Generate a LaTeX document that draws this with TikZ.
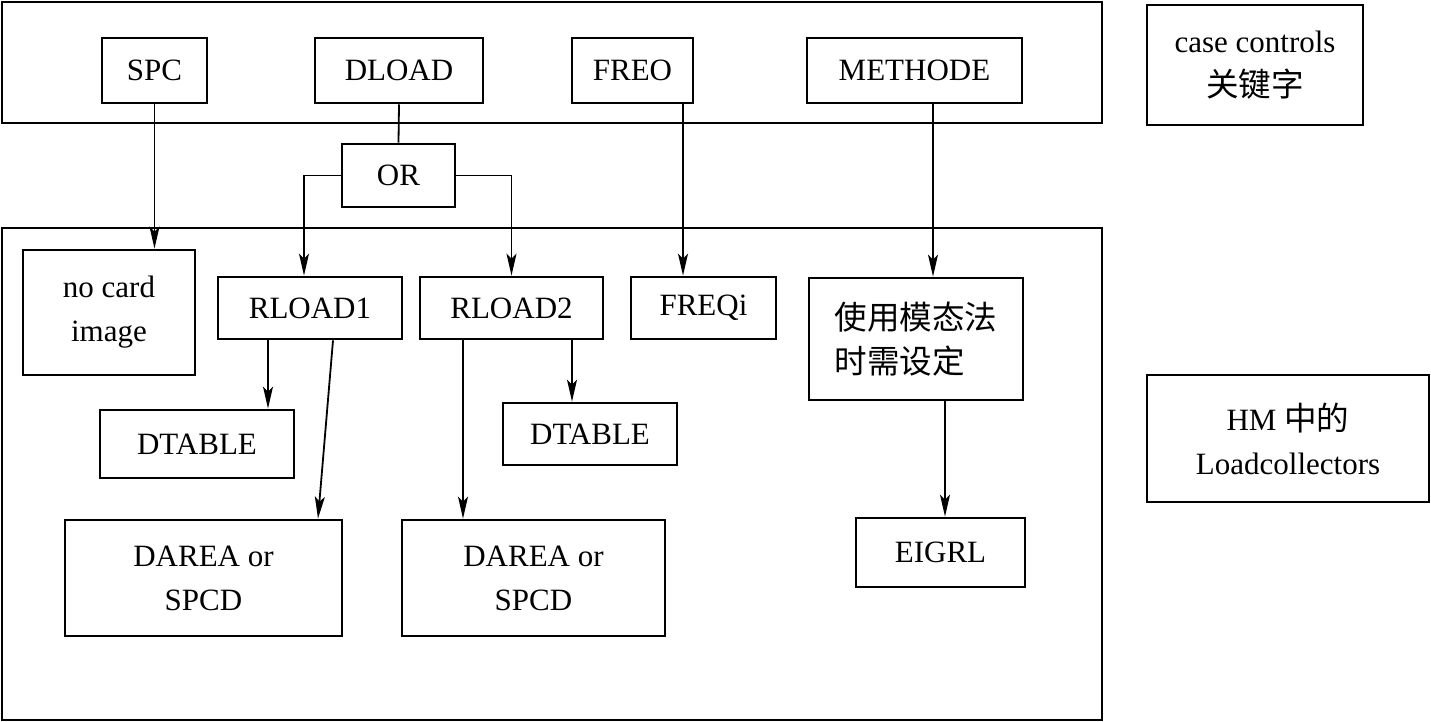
\documentclass[tikz,border=0pt]{standalone}
\usepackage{fontspec}
\setmainfont{Liberation Serif}
\newfontfamily\cjk[Scale=1.05]{Noto Sans CJK SC}
\usetikzlibrary{arrows.meta,calc}
\tikzset{
  box/.style={draw, line width=2.8pt, inner sep=0pt, align=center, font=\fontsize{31}{44}\selectfont},
  frame/.style={draw, line width=2.8pt, inner sep=0pt},
  arr/.style={line width=1.8pt, -{Stealth[length=22pt,width=10pt,inset=5pt]}},
  ln/.style={line width=1.8pt}
}
\begin{document}
\begin{tikzpicture}[x=1pt,y=-1pt]
\useasboundingbox[fill=white] (0,0) rectangle (1431,722);
% frames
\node[frame, minimum width=1100, minimum height=121] (topframe) at (552,62.5) {};
\node[frame, minimum width=1100, minimum height=492] (botframe) at (552,474) {};
% top row
\node[box, minimum width=105, minimum height=65] (spc) at (154.5,70.5) {SPC};
\node[box, minimum width=168, minimum height=65] (dload) at (399,70.5) {DLOAD};
\node[box, minimum width=121, minimum height=65] (freo) at (632.5,70.5) {FREO};
\node[box, minimum width=215, minimum height=65] (meth) at (914.5,70.5) {METHODE};
\node[box, minimum width=216, minimum height=120] (cc) at (1255,65) {case controls\\{\cjk 关键字}};
\node[box, minimum width=113, minimum height=63] (or) at (398.5,175.5) {OR};
% second row
\node[box, minimum width=172, minimum height=125] (nocard) at (109,312.5) {no card\\image};
\node[box, minimum width=184, minimum height=62] (rl1) at (310,308) {RLOAD1};
\node[box, minimum width=183, minimum height=62] (rl2) at (511.5,308) {RLOAD2};
\node[box, minimum width=145, minimum height=62] (freq) at (703.5,308) {FREQi};
\node[box, minimum width=214, minimum height=122, align=left] (modal) at (916,339) {{\cjk 使用模态法}\\{\cjk 时需设定}};
\node[box, minimum width=282, minimum height=127] (hm) at (1288,438.5) {HM {\cjk 中的}\\Loadcollectors};
% third row
\node[box, minimum width=194, minimum height=68] (dt1) at (197,444) {DTABLE};
\node[box, minimum width=174, minimum height=62] (dt2) at (590,434) {DTABLE};
\node[box, minimum width=277, minimum height=116] (da1) at (203.5,578) {DAREA or\\SPCD};
\node[box, minimum width=263, minimum height=116] (da2) at (533.5,578) {DAREA or\\SPCD};
\node[box, minimum width=169, minimum height=69] (eig) at (940.5,552.5) {EIGRL};
% connectors
\draw[arr] (spc.south) -- (spc.south |- nocard.north);
\draw[ln] (dload.south) -- (or.north);
\draw[arr] (or.west) -| ([xshift=-6]rl1.north);
\draw[arr] (or.east) -| (rl2.north);
\draw[arr] ([xshift=50.5]freo.south) -- ([xshift=50.5]freo.south |- freq.north);
\draw[arr] ([xshift=18.5]meth.south) -- ([xshift=18.5]meth.south |- modal.north);
\draw[arr] ([xshift=-42]rl1.south) -- ([xshift=-42]rl1.south |- dt1.north);
\draw[arr] ([xshift=23]rl1.south) -- ([xshift=114.5]da1.north);
\draw[arr] ([xshift=-48.5]rl2.south) -- ([xshift=-48.5]rl2.south |- da2.north);
\draw[arr] ([xshift=60.5]rl2.south) -- ([xshift=60.5]rl2.south |- dt2.north);
\draw[arr] ([xshift=29]modal.south) -- ([xshift=29]modal.south |- eig.north);
\end{tikzpicture}
\end{document}
